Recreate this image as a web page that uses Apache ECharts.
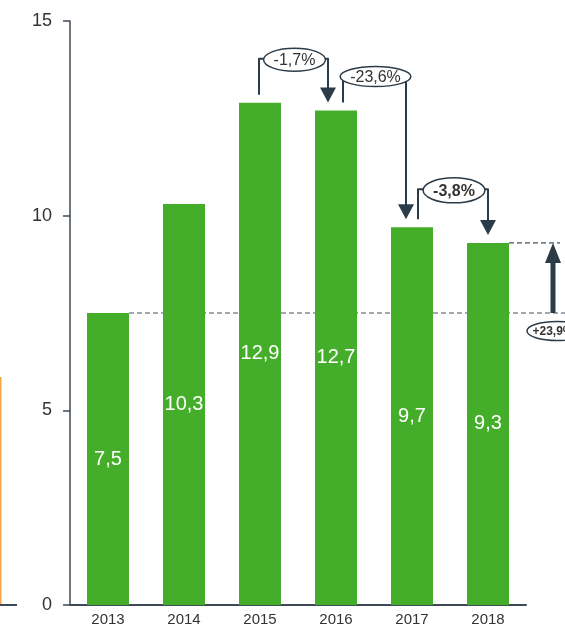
<!DOCTYPE html>
<html><head><meta charset="utf-8">
<script src="https://cdn.jsdelivr.net/npm/echarts@6/dist/echarts.min.js"></script>
<style>html,body{margin:0;padding:0;background:#fff}#c{width:565px;height:628px}</style>
</head><body><div id="c"></div>
<script>
const years = ['2013','2014','2015','2016','2017','2018'];
const values = [7.5, 10.3, 12.9, 12.7, 9.7, 9.3];
const yTicks = [0, 5, 10, 15];
const changeLabels = ['-1,7%', '-23,6%', '-3,8%'];
const changeBold = [false, false, true];
const changePairs = [[2, 3], [3, 4], [4, 5]];
const totalLabel = '+23,9%';
const totalPair = [0, 5];

const DARK = '#2c3b48';
const FONT = '"Liberation Sans", Arial, sans-serif';
const chart = echarts.init(document.getElementById('c'), null, {renderer: 'canvas'});
const fmt = v => String(v).replace('.', ',');

chart.setOption({
  animation: false,
  grid: {left: 70, right: 39, top: 21, bottom: 23},
  xAxis: {
    type: 'category', data: years,
    axisLine: {lineStyle: {color: '#3e4a54', width: 2}},
    axisTick: {show: false},
    axisLabel: {color: '#333', fontSize: 15, margin: 7, fontFamily: FONT}
  },
  yAxis: {
    type: 'value', min: yTicks[0], max: yTicks[yTicks.length - 1], interval: yTicks[1] - yTicks[0],
    splitLine: {show: false},
    axisLine: {show: true, lineStyle: {color: '#3e4a54', width: 1.5}},
    axisTick: {show: true, length: 7, lineStyle: {color: '#3e4a54', width: 1.5}},
    axisLabel: {color: '#333', fontSize: 18, margin: 18, fontFamily: FONT}
  },
  series: [{
    type: 'bar', data: values, barWidth: 42,
    itemStyle: {color: '#44ae2b'},
    label: {show: true, position: 'inside', color: '#fff', fontSize: 20, fontFamily: FONT,
      formatter: p => fmt(p.value)}
  }]
});

const px = (i, v) => chart.convertToPixel({seriesIndex: 0}, [i, v]);
const cv = document.createElement('canvas').getContext('2d');
const textW = (t, f) => { cv.font = f; return cv.measureText(t).width; };

const g = [];
// neighbour-chart remnants on the left edge
g.push({type: 'line', shape: {x1: 0.75, y1: 377, x2: 0.75, y2: px(0, 0)[1]}, style: {stroke: '#f5a54a', lineWidth: 1.5}});
g.push({type: 'line', shape: {x1: 0, y1: px(0, 0)[1], x2: 17, y2: px(0, 0)[1]}, style: {stroke: '#3e4a54', lineWidth: 2}});

// dashed reference lines
const base = px(totalPair[0], values[totalPair[0]]);
const last = px(totalPair[1], values[totalPair[1]]);
g.push({type: 'line', shape: {x1: base[0] + 21, y1: base[1], x2: 565, y2: base[1]},
  style: {stroke: '#46525c', lineWidth: 1.2, lineDash: [5, 3]}});
g.push({type: 'line', shape: {x1: last[0] + 21, y1: last[1], x2: 560, y2: last[1]},
  style: {stroke: '#46525c', lineWidth: 1.2, lineDash: [5, 3]}});

// change brackets
const rise = [44, 35, 38];
const dxs = [[-1, -8], [7, -6], [6, 0]];
const rys = [11.5, 10, 12.5];
changePairs.forEach(([a, b], k) => {
  const pa = px(a, values[a]), pb = px(b, values[b]);
  const x1 = pa[0] + dxs[k][0], x2 = pb[0] + dxs[k][1];
  const yTop = pa[1] - rise[k];
  const y1 = pa[1] - 8, tip = pb[1] - 8;
  const ah = 15, aw = 16;
  g.push({type: 'polyline', shape: {points: [[x1, y1], [x1, yTop], [x2, yTop], [x2, tip - ah + 1]]},
    style: {stroke: DARK, lineWidth: 2, fill: null, lineJoin: 'round'}});
  g.push({type: 'polygon', shape: {points: [[x2 - aw / 2, tip - ah], [x2 + aw / 2, tip - ah], [x2, tip]]},
    style: {fill: DARK}});
  const f = (changeBold[k] ? 'bold ' : '') + '16px ' + FONT;
  const w = textW(changeLabels[k], f);
  const cx = (x1 + x2) / 2 + 1, cy = yTop + 1;
  g.push({type: 'ellipse', shape: {cx: cx, cy: cy, rx: w / 2 + 10, ry: rys[k]},
    style: {fill: '#fff', stroke: DARK, lineWidth: 1.5}, z: 10});
  g.push({type: 'text', x: cx, y: cy + 1, z: 11,
    style: {text: changeLabels[k], font: f, fill: '#333', align: 'center', verticalAlign: 'middle'}});
});

// total change arrow
const ax = last[0] + 65;
g.push({type: 'line', shape: {x1: ax, y1: base[1], x2: ax, y2: last[1] + 18},
  style: {stroke: DARK, lineWidth: 5}});
g.push({type: 'polygon', shape: {points: [[ax - 8, last[1] + 20], [ax + 8, last[1] + 20], [ax, last[1]]]},
  style: {fill: DARK}});
const tf = 'bold 12px ' + FONT;
g.push({type: 'ellipse', shape: {cx: 557, cy: base[1] + 18, rx: 30, ry: 9.5},
  style: {fill: '#fff', stroke: DARK, lineWidth: 1.5}, z: 10});
g.push({type: 'text', x: 553, y: base[1] + 19, z: 11,
  style: {text: totalLabel, font: tf, fill: '#333', align: 'center', verticalAlign: 'middle'}});

chart.setOption({graphic: g});
</script>
</body></html>
